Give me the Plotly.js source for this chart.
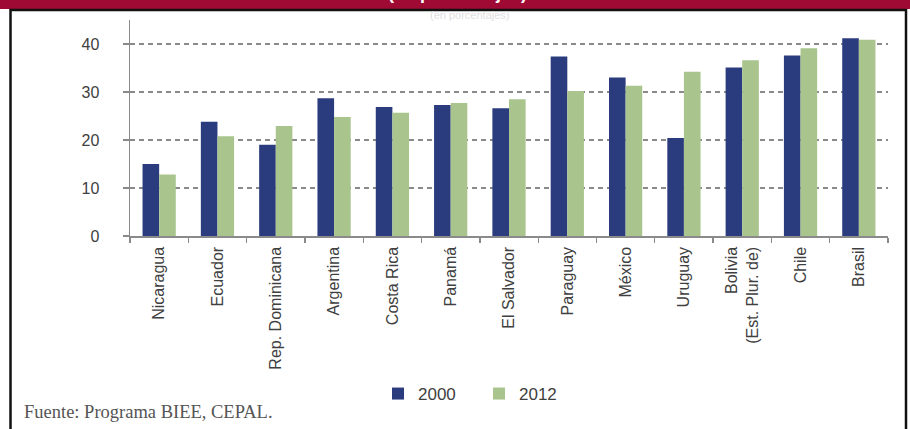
<!DOCTYPE html>
<html>
<head>
<meta charset="utf-8">
<script src="https://cdn.plot.ly/plotly-3.0.1.min.js"></script>
<style>
  html, body { margin: 0; padding: 0; background: #fff; }
  #chart { width: 910px; height: 429px; }
</style>
</head>
<body>
<div id="chart"></div>
<script>
const categories = ["Nicaragua", "Ecuador", "Rep. Dominicana", "Argentina", "Costa Rica", "Panamá",
  "El Salvador", "Paraguay", "México", "Uruguay", "Bolivia<br>(Est. Plur. de)", "Chile", "Brasil"];
const values2000 = [15.0, 23.8, 19.0, 28.7, 26.9, 27.3, 26.6, 37.4, 33.0, 20.4, 35.1, 37.6, 41.2];
const values2012 = [12.8, 20.8, 22.9, 24.8, 25.7, 27.7, 28.5, 30.2, 31.3, 34.2, 36.6, 39.1, 40.9];
const yTicks = [0, 10, 20, 30, 40];
const seriesNames = ["2000", "2012"];
const titleText = "(en porcentajes)";
const sourceText = "Fuente: Programa BIEE, CEPAL.";

const W = 910, H = 429;
const M = {l: 130, r: 22, t: 20, b: 193};
const plotW = W - M.l - M.r, plotH = H - M.t - M.b;
const px = x => (x - M.l) / plotW;          // pixel x -> paper x
const py = y => (H - M.b - y) / plotH;      // pixel y -> paper y

const font = "Liberation Sans, Arial, sans-serif";

const traces = [
  {type: "bar", name: seriesNames[0], x: categories, y: values2000,
   marker: {color: "#2b3c7e"}, hoverinfo: "x+y"},
  {type: "bar", name: seriesNames[1], x: categories, y: values2012,
   marker: {color: "#a9c48c"}, hoverinfo: "x+y"}
];

const layout = {
  width: W, height: H,
  margin: M,
  paper_bgcolor: "#ffffff",
  plot_bgcolor: "#ffffff",
  barmode: "group",
  bargap: 0.43,
  bargroupgap: 0,
  font: {family: font, color: "#404040", size: 16},
  xaxis: {
    type: "category",
    tickangle: -90,
    tickson: "boundaries",
    ticks: "outside", ticklen: 5, tickcolor: "#8a8a8a", tickwidth: 1.3,
    showline: true, linecolor: "#8a8a8a", linewidth: 1.5,
    showgrid: false, zeroline: false,
    tickfont: {family: font, size: 16, color: "#404040"},
    ticklabelstandoff: 3,
    fixedrange: true
  },
  yaxis: {
    range: [0, 45],
    tickvals: yTicks,
    ticks: "outside", ticklen: 6, tickcolor: "#8a8a8a", tickwidth: 1.3,
    showline: true, linecolor: "#8a8a8a", linewidth: 1.5,
    showgrid: true, gridcolor: "#8a8a8a", gridwidth: 1.3, griddash: "5px,4px",
    zeroline: false,
    tickfont: {family: font, size: 16, color: "#404040"},
    ticklabelstandoff: 20,
    fixedrange: true
  },
  showlegend: true,
  legend: {
    orientation: "h",
    x: px(378), xanchor: "left",
    y: py(394), yanchor: "middle",
    font: {family: font, size: 17, color: "#404040"},
    itemwidth: 30,
    entrywidth: 56, entrywidthmode: "pixels",
    bgcolor: "rgba(0,0,0,0)",
    traceorder: "normal"
  },
  shapes: [
    {type: "rect", xref: "paper", yref: "paper", layer: "below",
     x0: px(0), x1: px(W), y0: py(9), y1: py(-5),
     fillcolor: "#9e0a33", line: {width: 0}},
    {type: "rect", xref: "paper", yref: "paper", layer: "above",
     x0: px(10.5), x1: px(906), y0: py(440), y1: py(10),
     fillcolor: "rgba(0,0,0,0)", line: {color: "#111111", width: 2.5}}
  ],
  annotations: [
    {xref: "paper", yref: "paper", x: px(457), y: py(5), xanchor: "center", yanchor: "bottom",
     text: "<b>" + titleText + "</b>", showarrow: false,
     font: {family: font, size: 18, color: "#ffffff"}},
    {xref: "paper", yref: "paper", x: px(470), y: py(15), xanchor: "center", yanchor: "middle",
     text: titleText, showarrow: false,
     font: {family: font, size: 11, color: "#e0e0e0"}},
    {xref: "paper", yref: "paper", x: px(22), y: py(412), xanchor: "left", yanchor: "middle",
     text: sourceText, showarrow: false,
     font: {family: "Liberation Serif, Times New Roman, serif", size: 18.5, color: "#555555"}}
  ]
};

Plotly.newPlot("chart", traces, layout, {displayModeBar: false, staticPlot: true});
</script>
</body>
</html>
